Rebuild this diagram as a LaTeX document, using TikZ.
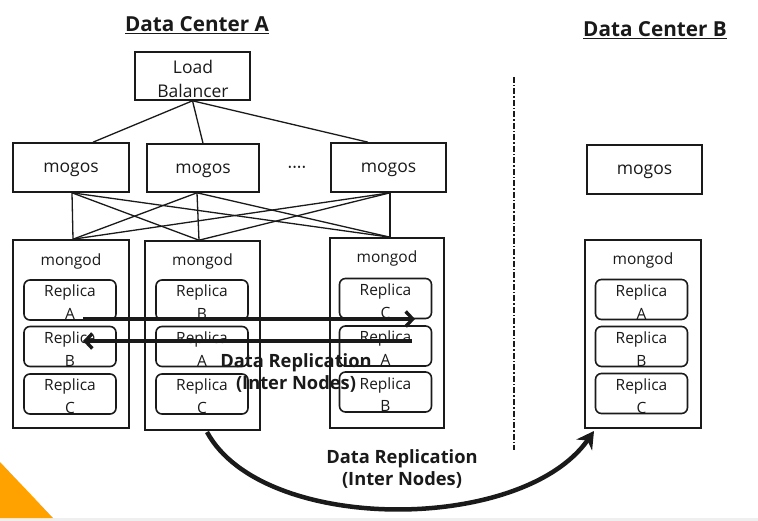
\documentclass[tikz,border=0pt]{standalone}
\usepackage{fontspec}
\setmainfont{Open Sans}
\usetikzlibrary{arrows.meta}
\definecolor{ink}{HTML}{1A1A1A}
\definecolor{slideorange}{HTML}{FFA200}
\definecolor{band}{HTML}{EFEFEF}
\newcommand\replicabox[4]{%
  \node[rep] (#1) at (#2,#3) {};
  \node[lbl,anchor=base] (#1t) at ([yshift=3pt]#1.center) {Replica};
  \node[lbl,anchor=base] (#1l) at ([yshift=1pt]#1.south) {#4};
}
\newcommand\mogosbox[5]{% name, x, y, w, h
  \node[box,minimum width=#4pt,minimum height=#5pt] (#1) at (#2,#3) {};
  \node[big] (#1t) at ([yshift=-2.5pt]#1.center) {mogos};
}
\begin{document}
\begin{tikzpicture}[x=1pt,y=-1pt,
  box/.style={draw=ink,line width=1.6pt,inner sep=0pt},
  rep/.style={draw=ink,line width=1.6pt,rounded corners=6pt,minimum width=92pt,minimum height=40pt,inner sep=0pt},
  lbl/.style={font=\fontsize{15.5}{18}\selectfont,inner sep=0pt,text=ink},
  big/.style={font=\fontsize{17.5}{24}\selectfont,inner sep=0pt,text=ink},
  conn/.style={line width=1.3pt,draw=ink},
  reparrow/.style={line width=3.6pt,draw=ink,-{Straight Barb[length=7pt,width=15pt,line width=3.4pt]}},
  title/.style={font=\bfseries\fontsize{20.7}{24}\selectfont,inner sep=0pt,text=ink},
  captxt/.style={font=\bfseries\fontsize{18.3}{22}\selectfont,inner sep=0pt,align=center,text=ink}
]
\useasboundingbox (0,0) rectangle (758,521);
\fill[white] (0,0) rectangle (758,521);
\fill[band] (0,518) rectangle (758,521);
\fill[slideorange] (0,462) -- (0,518) -- (53,518) -- cycle;

% titles
\node[title] (tA) at (197,25) {\underline{Data Center A}};
\node[title] (tB) at (655,30) {\underline{Data Center B}};

% load balancer
\node[box,minimum width=115pt,minimum height=48pt] (lb) at (192.5,76) {};
\node[big,align=center] (lbt) at (193,79) {Load\\Balancer};

% mogos
\mogosbox{g1}{71}{167.5}{116}{49}
\mogosbox{g2}{203}{168}{112}{48}
\mogosbox{g3}{388.5}{167.5}{115}{49}
\mogosbox{gB}{644.5}{169.5}{115}{49}
\node[big] (dots) at (297,170) {····};

\draw[conn] (lb.south) -- ([xshift=22pt]g1.north);
\draw[conn] (lb.south) -- (g2.north);
\draw[conn] (lb.south) -- ([xshift=-20.5pt]g3.north);

% mongod
\node[box,minimum width=116pt,minimum height=188pt] (d1) at (71,334) {};
\node[box,minimum width=115pt,minimum height=189pt] (d2) at (202.5,335.5) {};
\node[box,minimum width=114pt,minimum height=190pt] (d3) at (387,333) {};
\node[box,minimum width=116pt,minimum height=188pt] (dB) at (643,334) {};
\node[lbl] (d1t) at ([yshift=-22pt]d1.north) {mongod};
\node[lbl] (d2t) at ([yshift=-21pt]d2.north) {mongod};
\node[lbl] (d3t) at ([yshift=-21pt]d3.north) {mongod};
\node[lbl] (dBt) at ([yshift=-21pt]dB.north) {mongod};

% mesh
\coordinate (g1b) at ([xshift=1pt]g1.south);
\coordinate (g2b) at ([xshift=-6pt]g2.south);
\coordinate (g3b) at ([xshift=1.5pt]g3.south);
\coordinate (d1n) at ([xshift=2pt]d1.north);
\coordinate (d2n) at ([xshift=-3.5pt]d2.north);
\coordinate (d3n) at ([xshift=3pt]d3.north);
\foreach \a in {g1b,g2b,g3b}
  \foreach \b in {d1n,d2n,d3n}
    \draw[conn] (\a) -- (\b);

% replicas
\replicabox{r1a}{70}{300}{A}
\replicabox{r1b}{70}{346.5}{B}
\replicabox{r1c}{70}{394}{C}
\replicabox{r2a}{202}{300}{B}
\replicabox{r2b}{202}{346.5}{A}
\replicabox{r2c}{202}{394}{C}
\replicabox{r3a}{385.5}{298.5}{C}
\replicabox{r3b}{385.5}{346}{A}
\replicabox{r3c}{385.5}{392}{B}
\replicabox{rBa}{641.5}{299.5}{A}
\replicabox{rBb}{641.5}{346.5}{B}
\replicabox{rBc}{641.5}{393.5}{C}

% inter-node replication arrows
\coordinate (ua) at (83,319);
\coordinate (ub) at (415,319);
\coordinate (la) at (412,341);
\coordinate (lz) at (83,341);
\draw[reparrow] (ua) -- (ub);
\draw[reparrow] (la) -- (lz);
\node[captxt] (capA) at (296,373) {Data Replication\\(Inter Nodes)};

% separator
\coordinate (sept) at (514,77);
\coordinate (sepb) at (514,450);
\draw[line width=1.4pt,draw=ink,dash pattern=on 6pt off 2pt on 1.5pt off 2pt] (sept) -- (sepb);

% inter data center arrow
\coordinate (cs) at (207,432);
\coordinate (ce) at (594,431);
\draw[line width=4.5pt,draw=ink,-{Stealth[length=17pt,width=19pt]}] (cs) .. controls (262,534) and (522,534) .. (ce);
\node[captxt] (capB) at (402,469) {Data Replication\\(Inter Nodes)};
\end{tikzpicture}
\end{document}
